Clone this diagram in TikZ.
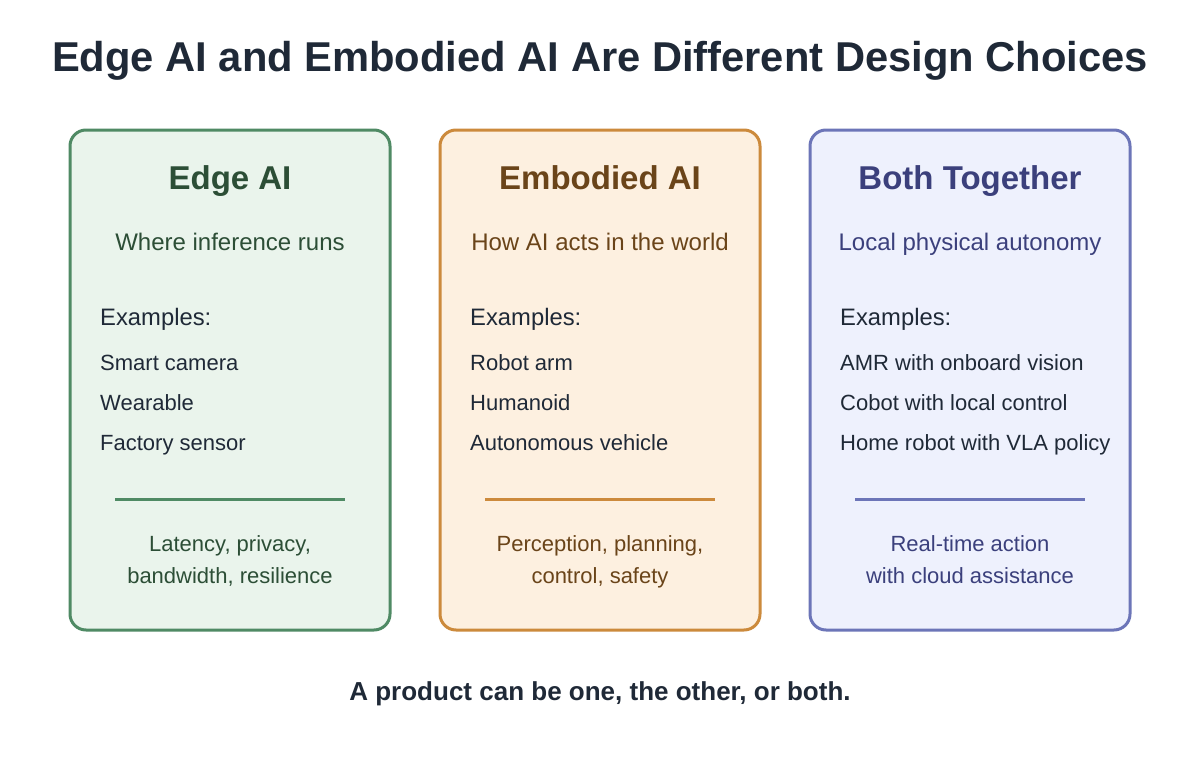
\documentclass[tikz,border=0pt]{standalone}
\usepackage{fontspec}
\setmainfont{Liberation Sans}
\definecolor{ink}{HTML}{1F2937}
\definecolor{gB}{HTML}{4F8A64}
\definecolor{gF}{HTML}{EAF4EC}
\definecolor{gT}{HTML}{2C4E36}
\definecolor{oB}{HTML}{CC8A3C}
\definecolor{oF}{HTML}{FDF0E0}
\definecolor{oT}{HTML}{6A4419}
\definecolor{bB}{HTML}{6C75B8}
\definecolor{bF}{HTML}{EEF1FD}
\definecolor{bT}{HTML}{3B407C}
\tikzset{
  card/.style={draw=#1, line width=3pt, rounded corners=16pt},
  txt/.style={inner sep=0pt, anchor=base},
  head/.style={txt, font=\fontsize{33}{39}\selectfont\bfseries},
  sub/.style={txt, font=\fontsize{24}{29}\selectfont},
  exh/.style={txt, anchor=base west, font=\fontsize{23.8}{28}\selectfont, text=ink},
  item/.style={txt, anchor=base west, font=\fontsize{22}{26}\selectfont, text=ink},
  note/.style={txt, font=\fontsize{22}{26}\selectfont},
  rule/.style={line width=3pt}
}
\begin{document}
\begin{tikzpicture}[x=1pt,y=-1pt]
\useasboundingbox (0,0) rectangle (1200,760);
\fill[white] (0,0) rectangle (1200,760);
\node[txt, font=\fontsize{41.7}{48}\selectfont\bfseries, text=ink] (title) at (600,71) {Edge AI and Embodied AI Are Different Design Choices};
% card 1
\filldraw[card=gB, fill=gF] (70,130) rectangle (390,630);
\node[head, text=gT] (h1) at (230,189) {Edge AI};
\node[sub, text=gT] (s1) at (230,250) {Where inference runs};
\node[exh] (e1) at (100,325) {Examples:};
\node[item] (i11) at (100,370) {Smart camera};
\node[item] (i12) at (100,410) {Wearable};
\node[item] (i13) at (100,450) {Factory sensor};
\draw[rule, draw=gB] (115,499) -- (345,499);
\node[note, text=gT] (n1a) at (230,551) {Latency, privacy,};
\node[note, text=gT] (n1b) at (230,583) {bandwidth, resilience};
% card 2
\filldraw[card=oB, fill=oF] (440,130) rectangle (760,630);
\node[head, text=oT] (h2) at (600,189) {Embodied AI};
\node[sub, text=oT] (s2) at (600,250) {How AI acts in the world};
\node[exh] (e2) at (470,325) {Examples:};
\node[item] (i21) at (470,370) {Robot arm};
\node[item] (i22) at (470,410) {Humanoid};
\node[item] (i23) at (470,450) {Autonomous vehicle};
\draw[rule, draw=oB] (485,499) -- (715,499);
\node[note, text=oT] (n2a) at (600,551) {Perception, planning,};
\node[note, text=oT] (n2b) at (600,583) {control, safety};
% card 3
\filldraw[card=bB, fill=bF] (810,130) rectangle (1130,630);
\node[head, text=bT] (h3) at (970,189) {Both Together};
\node[sub, text=bT] (s3) at (970,250) {Local physical autonomy};
\node[exh] (e3) at (840,325) {Examples:};
\node[item] (i31) at (840,370) {AMR with onboard vision};
\node[item] (i32) at (840,410) {Cobot with local control};
\node[item] (i33) at (840,450) {Home robot with VLA policy};
\draw[rule, draw=bB] (855,499) -- (1085,499);
\node[note, text=bT] (n3a) at (970,551) {Real-time action};
\node[note, text=bT] (n3b) at (970,583) {with cloud assistance};
\node[txt, font=\fontsize{26}{31}\selectfont\bfseries, text=ink] (foot) at (600,700) {A product can be one, the other, or both.};
\end{tikzpicture}
\end{document}
